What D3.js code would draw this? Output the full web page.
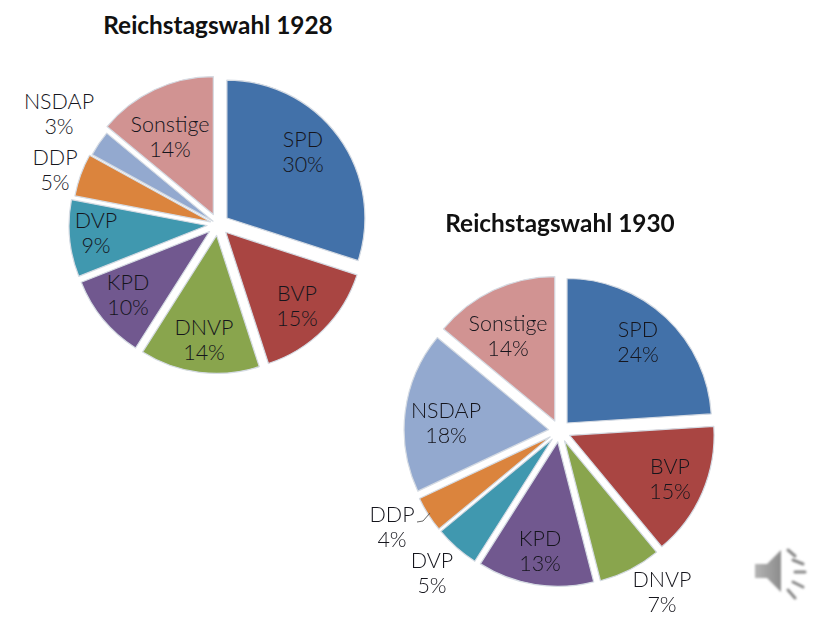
<!DOCTYPE html>
<html lang="de">
<head>
<meta charset="utf-8">
<script src="https://cdn.jsdelivr.net/npm/d3@7"></script>
<style>
html,body{margin:0;padding:0;background:#fff;overflow:hidden}
svg{display:block}
</style>
</head>
<body>
<svg id="c" width="828" height="621"></svg>
<script>
// Data
const parties = ["SPD","BVP","DNVP","KPD","DVP","DDP","NSDAP","Sonstige"];
const values1928 = [30,15,14,10,9,5,3,14];
const values1930 = [24,15,7,13,5,4,18,14];
const title1928 = "Reichstagswahl 1928";
const title1930 = "Reichstagswahl 1930";

// Style and layout
const colours = ["#4371a9","#a94442","#89a54e","#71588f","#4198af","#db843d","#93a9cf","#d19392"];
const layout1928 = {cx:218,cy:224.5,r:138,gaps:[11,11,11,11,11,8,6,11],titleX:218,titleY:26,
  labels:[[303,152],[297,306],[204,340],[128,295],[96,233],[55,170],[59,114],[170,137]]};
const layout1930 = {cx:559.5,cy:431,r:144.5,gaps:[11,11,11,11,11,11,11,11],titleX:560,titleY:224,
  labels:[[638,342],[670,479],[662,592],[540,551],[432,573],[392,527],[446,423],[508,336]]};

const svg = d3.select("#c");
const defs = svg.append("defs");
defs.append("filter").attr("id","soft").attr("x","-10%").attr("y","-10%").attr("width","120%").attr("height","120%")
  .append("feGaussianBlur").attr("stdDeviation",0.45);
defs.append("filter").attr("id","softer").attr("x","-20%").attr("y","-20%").attr("width","140%").attr("height","140%")
  .append("feGaussianBlur").attr("stdDeviation",0.8);
const grad = defs.append("linearGradient").attr("id","spk").attr("x1",0).attr("x2",1).attr("y1",0).attr("y2",0);
grad.append("stop").attr("offset",0).attr("stop-color","#b4b4b4");
grad.append("stop").attr("offset",1).attr("stop-color","#8c8c8c");

const color = d3.scaleOrdinal(parties, colours);
const pie = d3.pie().value(d => d.value).sort(null);

function drawPie(values, title, L){
  const data = parties.map((name,i) => ({name, value:values[i], label:L.labels[i], gap:L.gaps[i]}));
  const arcs = pie(data);
  const arc = d3.arc().innerRadius(0).outerRadius(L.r);
  const g = svg.append("g");

  g.append("g").attr("filter","url(#soft)")
    .selectAll("path").data(arcs).join("path")
    .attr("d", arc)
    .attr("fill", d => color(d.data.name))
    .attr("stroke", "#d5dbe3")
    .attr("stroke-width", 1.2)
    .attr("stroke-linejoin","round")
    .attr("transform", d => {
      const m = (d.startAngle + d.endAngle) / 2;
      return `translate(${L.cx + d.data.gap*Math.sin(m)},${L.cy - d.data.gap*Math.cos(m)})`;
    });

  const lab = g.append("g")
    .attr("font-family","Lato, 'Open Sans', sans-serif")
    .attr("font-size",21.5)
    .attr("font-weight",300)
    .attr("fill","#15151c")
    .attr("text-anchor","middle")
    .selectAll("text").data(arcs).join("text")
    .attr("transform", d => `translate(${d.data.label[0]},${d.data.label[1]})`);
  lab.append("tspan").attr("x",0).attr("y",-5).text(d => d.data.name);
  lab.append("tspan").attr("x",0).attr("y",20).text(d => d.data.value + "%");

  svg.append("text").text(title)
    .attr("x",L.titleX).attr("y",L.titleY+8)
    .attr("text-anchor","middle")
    .attr("font-family","Lato, 'Open Sans', sans-serif")
    .attr("font-weight",700).attr("font-size",24.4)
    .attr("fill","#111");
}
drawPie(values1928, title1928, layout1928);
drawPie(values1930, title1930, layout1930);

// DDP leader line in the 1930 chart
svg.append("path").attr("d","M417,522 L423,521 L430,513")
  .attr("fill","none").attr("stroke","#555").attr("stroke-width",0.9);

// Speaker icon
const spk = svg.append("g").attr("filter","url(#softer)");
spk.append("path").attr("d","M755,564 L767,564 L781,550 L781,592 L767,578 L755,578 Z").attr("fill","url(#spk)");
const waves = [[788,550,795,556],[793,560,803,564],[795,572,805,572],[793,582,803,587],[788,590,795,598]];
spk.selectAll("line").data(waves).join("line")
  .attr("x1",d=>d[0]).attr("y1",d=>d[1]).attr("x2",d=>d[2]).attr("y2",d=>d[3])
  .attr("stroke","#8a8a8a").attr("stroke-width",3).attr("stroke-linecap","round");
</script>
</body>
</html>
